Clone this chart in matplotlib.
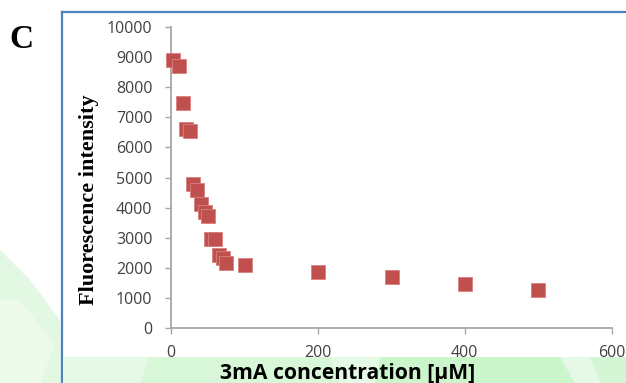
import matplotlib
matplotlib.use("Agg")
import matplotlib.pyplot as plt
from matplotlib.patches import Polygon
from matplotlib.lines import Line2D

# 3mA concentration (µM) and measured fluorescence intensity
concentration = [4, 11, 16.5, 21, 26, 31, 36, 41, 46.5, 51, 55, 60, 65.5, 71, 76, 101,
                 201, 301, 401, 500]
intensity = [8900, 8720, 7480, 6620, 6560, 4800, 4580, 4110, 3850, 3720, 2975, 2965,
             2425, 2330, 2180, 2090, 1850, 1700, 1470, 1270]

x_ticks = [0, 200, 400, 600]
y_ticks = [0, 1000, 2000, 3000, 4000, 5000, 6000, 7000, 8000, 9000, 10000]

W, H = 626, 383
fig = plt.figure(figsize=(W / 100, H / 100), dpi=100)
fig.patch.set_facecolor("white")


def px(x, y):
    """Pixel position (from top-left) to figure fraction."""
    return (x / W, 1 - y / H)


def poly(points, color, z=0):
    fig.patches.append(Polygon([px(*p) for p in points], closed=True,
                               transform=fig.transFigure, facecolor=color,
                               edgecolor="none", zorder=z))


# faint green background motif around the panel
poly([(0, 250), (30, 280), (60, 320), (62, 383), (0, 383)], "#e3f8e3")
poly([(0, 300), (20, 300), (55, 345), (40, 383), (0, 383)], "#ebfaeb")
poly([(64, 357), (626, 357), (626, 383), (64, 383)], "#e6f9e6")
poly([(150, 357), (330, 357), (340, 383), (140, 383)], "#d8f6d8")
poly([(380, 357), (560, 357), (575, 383), (375, 383)], "#cbf6cb")
poly([(590, 357), (626, 357), (626, 383), (600, 383)], "#d4f6d4")

# blue panel frame
fig.add_artist(Line2D([62 / W, 62 / W], [0, 1 - 12 / H], transform=fig.transFigure,
                      color="#4F81BD", lw=1.6))
fig.add_artist(Line2D([62 / W, 1], [1 - 12 / H, 1 - 12 / H], transform=fig.transFigure,
                      color="#4F81BD", lw=1.6))

left, right = 170.5 / W, 611.5 / W
bottom, top = 1 - 328.2 / H, 1 - 27 / H
ax = fig.add_axes([left, bottom, right - left, top - bottom])
ax.set_facecolor("none")

ax.plot(concentration, intensity, linestyle="none", marker="s", markersize=10.2,
        markerfacecolor="#C0504D", markeredgecolor="#D8807E", markeredgewidth=0.6,
        clip_on=False, zorder=3)

ax.set_xlim(0, 600)
ax.set_ylim(0, 10000)
ax.set_xticks(x_ticks)
ax.set_yticks(y_ticks)
ax.set_xticklabels([str(v) for v in x_ticks])
ax.set_yticklabels([str(v) for v in y_ticks])

for side in ("top", "right"):
    ax.spines[side].set_visible(False)
for side in ("left", "bottom"):
    ax.spines[side].set_color("#A6A6A6")
    ax.spines[side].set_linewidth(1.3)

ax.tick_params(axis="both", direction="out", length=4.5, width=1.0, color="#A6A6A6",
               labelcolor="#404040", labelsize=11.5)
ax.tick_params(axis="y", pad=8.5)
ax.tick_params(axis="x", pad=7.5)
for lab in ax.get_xticklabels() + ax.get_yticklabels():
    lab.set_family("Open Sans")

fig.text(348 / W, 1 - 373.5 / H, "3mA concentration [µM]", ha="center", va="center",
         fontsize=15.2, fontweight="bold", family="Open Sans", color="black")
fig.text(89 / W, 1 - 200 / H, "Fluorescence intensity", rotation=90, ha="center",
         va="center", fontsize=16, fontweight="bold", family="Liberation Serif",
         color="black")
fig.text(21 / W, 1 - 40 / H, "C", ha="center", va="center", fontsize=24,
         fontweight="bold", family="Liberation Serif", color="black")

fig.savefig("out.png", dpi=100, facecolor=fig.get_facecolor())
